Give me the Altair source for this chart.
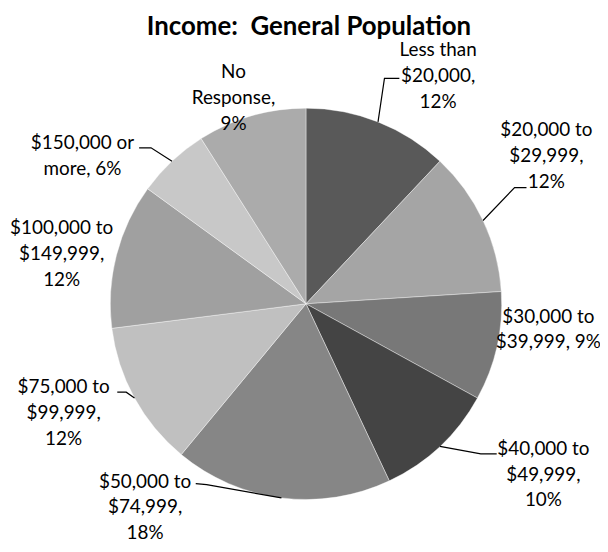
import math
import altair as alt
import pandas as pd

# ---------------- data ----------------
categories = [
    "Less than $20,000", "$20,000 to $29,999", "$30,000 to $39,999",
    "$40,000 to $49,999", "$50,000 to $74,999", "$75,000 to $99,999",
    "$100,000 to $149,999", "$150,000 or more", "No Response",
]
percents = [12, 12, 9, 10, 18, 12, 12, 6, 9]
label_texts = [
    "Less than\n$20,000,\n12%",
    "$20,000 to\n$29,999,\n12%",
    "$30,000 to\n$39,999, 9%",
    "$40,000 to\n$49,999,\n10%",
    "$50,000 to\n$74,999,\n18%",
    "$75,000 to\n$99,999,\n12%",
    "$100,000 to\n$149,999,\n12%",
    "$150,000 or\nmore, 6%",
    "No\nResponse,\n9%",
]

# ---------------- styles / layout ----------------
grays = ["#595959", "#a5a5a5", "#787878", "#444444", "#868686",
         "#c0c0c0", "#a0a0a0", "#c8c8c8", "#ababab"]
FONT = "Lato"
W, H = 596, 496
PAD_TOP = 40
CX, CY = 300, 256          # pie centre inside the view (px)
R = 197                    # pie radius (px)

# first-line centres of each label, relative to pie centre (px, y downwards)
label_offsets = [(133, -255), (242, -175), (244, 13), (239, 146), (-162, 179),
                 (-244, 84), (-246, -76), (-225, -162), (-73, -233)]
# leader-line stubs near the labels (px, relative to pie centre)
leader_stubs = {
    0: [(94, -227), (79, -227)],
    1: [(222, -117), (210, -117)],
    3: [(192, 151), (176, 151)],
    4: [(-111, 181), (-100, 182)],
    5: [(-190, 89), (-181, 89)],
    7: [(-168, -157), (-156, -157)],
}

# ---------------- tables ----------------
total = sum(percents)
mid_angles = []
cum = 0
for p in percents:
    mid_angles.append((cum + p / 2) / total * 2 * math.pi)
    cum += p

slices = pd.DataFrame({"category": categories, "pct": percents,
                       "idx": list(range(len(categories)))})

labels = pd.DataFrame({
    "category": categories,
    "label": label_texts,
    "tx": [o[0] for o in label_offsets],
    "ty": [o[1] for o in label_offsets],
})

rows = []
for i, stub in leader_stubs.items():
    pts = list(stub) + [(R * math.sin(mid_angles[i]), -R * math.cos(mid_angles[i]))]
    for s, (px, py) in enumerate(pts):
        rows.append({"key": categories[i], "step": s, "px": px, "py": py})
leaders = pd.DataFrame(rows)

xs = alt.Scale(domain=[-CX, W - CX], nice=False, zero=False)
ys = alt.Scale(domain=[-CY, H - CY], nice=False, zero=False, reverse=True)

pie = alt.Chart(slices).mark_arc(outerRadius=R, stroke="white", strokeWidth=0.4).encode(
    theta=alt.Theta("pct:Q", stack=True),
    order=alt.Order("idx:Q"),
    color=alt.Color("category:N", scale=alt.Scale(domain=categories, range=grays), legend=None),
    x=alt.value(CX),
    y=alt.value(CY),
)

lines = alt.Chart(leaders).mark_line(color="black", strokeWidth=1.2).encode(
    x=alt.X("px:Q", scale=xs, axis=None),
    y=alt.Y("py:Q", scale=ys, axis=None),
    detail="key:N",
    order="step:Q",
)

text = alt.Chart(labels).mark_text(
    font=FONT, fontSize=19, lineBreak="\n", lineHeight=26,
    align="center", baseline="middle", color="black",
).encode(
    x=alt.X("tx:Q", scale=xs, axis=None),
    y=alt.Y("ty:Q", scale=ys, axis=None),
    text="label:N",
)

chart = alt.layer(pie, lines, text).properties(
    width=W, height=H,
    background="white",
    autosize=alt.AutoSizeParams(type="none"),
    padding={"left": 0, "top": PAD_TOP, "right": 0, "bottom": 0},
    title=alt.Title("Income:\u00a0 General Population", font=FONT, fontSize=26,
                    fontWeight="bold", color="black", anchor="middle", frame="group",
                    offset=2, dx=5),
).configure_view(stroke=None)

chart.save("out.html", embed_options={"renderer": "svg", "actions": False})
